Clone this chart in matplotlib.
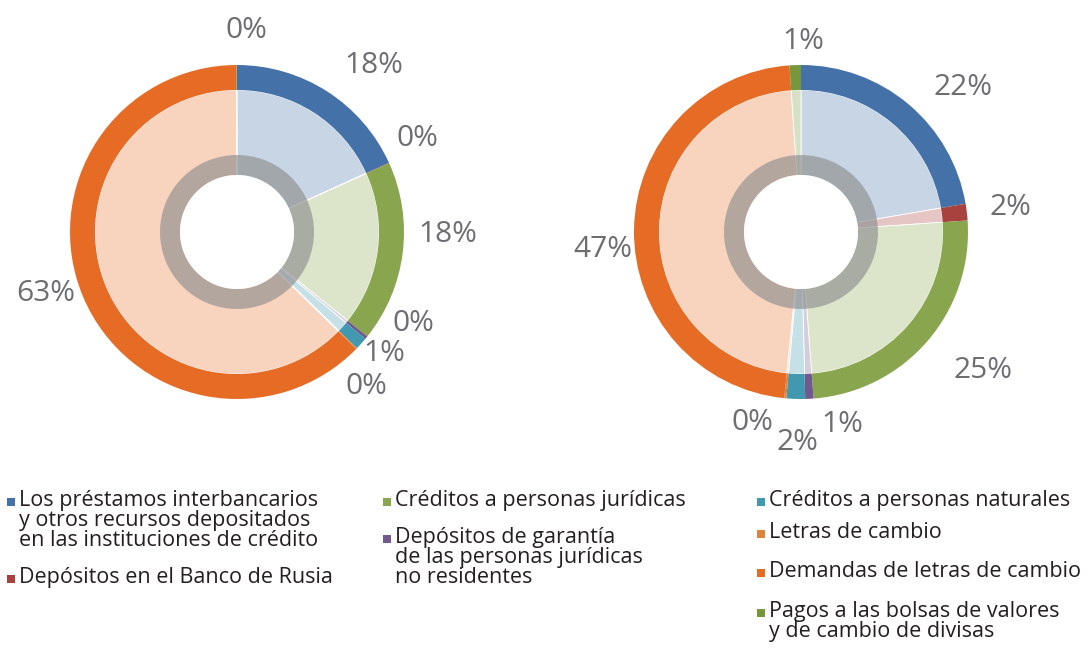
import matplotlib
matplotlib.use("Agg")
import matplotlib.pyplot as plt
from matplotlib.patches import Wedge, Circle, Rectangle
from matplotlib.colors import to_rgb
import numpy as np

# ---------------- data ----------------
categories = [
    "Los préstamos interbancarios\ny otros recursos depositados\nen las instituciones de crédito",
    "Depósitos en el Banco de Rusia",
    "Créditos a personas jurídicas",
    "Depósitos de garantía\nde las personas jurídicas\nno residentes",
    "Créditos a personas naturales",
    "Letras de cambio",
    "Demandas de letras de cambio",
    "Pagos a las bolsas de valores\ny de cambio de divisas",
]
left_values = [18.2, 0.05, 17.5, 0.3, 1.2, 0.1, 62.6, 0.05]
right_values = [22.3, 1.6, 24.9, 0.8, 1.8, 0.2, 47.3, 1.1]

# ---------------- styles ----------------
colors = ["#4472A8", "#A8423F", "#89A54E", "#71588F",
          "#4198AF", "#DB843D", "#E66C26", "#77973D"]
label_color = "#6D6E71"
text_color = "#231F20"
FONT = ["Open Sans", "DejaVu Sans"]

W, H = 1090, 648
fig = plt.figure(figsize=(W / 100, H / 100), dpi=100)
ax = fig.add_axes([0, 0, 1, 1])

R_OUT, R_IN = 167, 142
R_GRAY_OUT, R_GRAY_IN = 77, 57


def light(c, a=0.3):
    r = np.array(to_rgb(c))
    return tuple(1 - a * (1 - r))


def donut(values, cx, cy_pix, label_layout):
    cy = H - cy_pix
    # light full pie
    ax.pie(values, colors=[light(c) for c in colors], radius=R_IN,
           center=(cx, cy), startangle=90, counterclock=False, frame=True,
           wedgeprops=dict(edgecolor="white", linewidth=0.6))
    # saturated outer ring
    ax.pie(values, colors=colors, radius=R_OUT, center=(cx, cy),
           startangle=90, counterclock=False, frame=True,
           wedgeprops=dict(width=R_OUT - R_IN, edgecolor="none", linewidth=0))
    # gray translucent ring + white hole
    ax.add_patch(Wedge((cx, cy), R_GRAY_OUT, 0, 360, width=R_GRAY_OUT - R_GRAY_IN,
                       facecolor=(0.56, 0.56, 0.56, 0.66), edgecolor="none"))
    ax.add_patch(Circle((cx, cy), R_GRAY_IN, facecolor="white", edgecolor="none"))
    # percentage labels
    total = float(sum(values))
    cum = np.cumsum([0] + list(values)) / total
    for i, v in enumerate(values):
        mid = (cum[i] + cum[i + 1]) / 2 * 360.0  # clockwise from top
        d_ang, rr = label_layout[i]
        ang = np.deg2rad(mid + d_ang)
        x = cx + rr * np.sin(ang)
        y = cy + rr * np.cos(ang) - 3
        ax.text(x, y, f"{v / total * 100:.0f}%", ha="center", va="center",
                fontsize=21.5, color=label_color, family=FONT)


# label layout: (angle offset in degrees clockwise, radius in px)
left_layout = [(6.2, 218), (-3.8, 205), (-7.2, 211), (-12.6, 197),
               (-3.3, 189), (5.2, 199), (5.9, 200), (2.6, 205)]
right_layout = [(7.5, 219), (-0.6, 211), (-4.3, 227), (-9.3, 194),
                (-0.8, 208), (9.2, 194), (-5.2, 199), (2.6, 194)]

donut(left_values, 237, 232, left_layout)
donut(right_values, 801, 232, right_layout)

# ---------------- legend ----------------
# (x of square, baseline y in px) for each category
legend_pos = [(7, 506), (7, 583), (383, 506), (383, 543),
              (757, 506), (757, 538), (757, 577), (757, 617)]
LINE = 20
for cat, col, (lx, ly) in zip(categories, colors, legend_pos):
    ax.add_patch(Rectangle((lx, H - ly), 8, 8, facecolor=col, edgecolor="none"))
    for k, line in enumerate(cat.split("\n")):
        ax.text(lx + 12, H - (ly + k * LINE), line, ha="left", va="baseline",
                fontsize=15.5, color=text_color, family=FONT)

ax.set_xlim(0, W)
ax.set_ylim(0, H)
ax.set_aspect("equal")
ax.axis("off")
fig.savefig("out.png", dpi=100)
